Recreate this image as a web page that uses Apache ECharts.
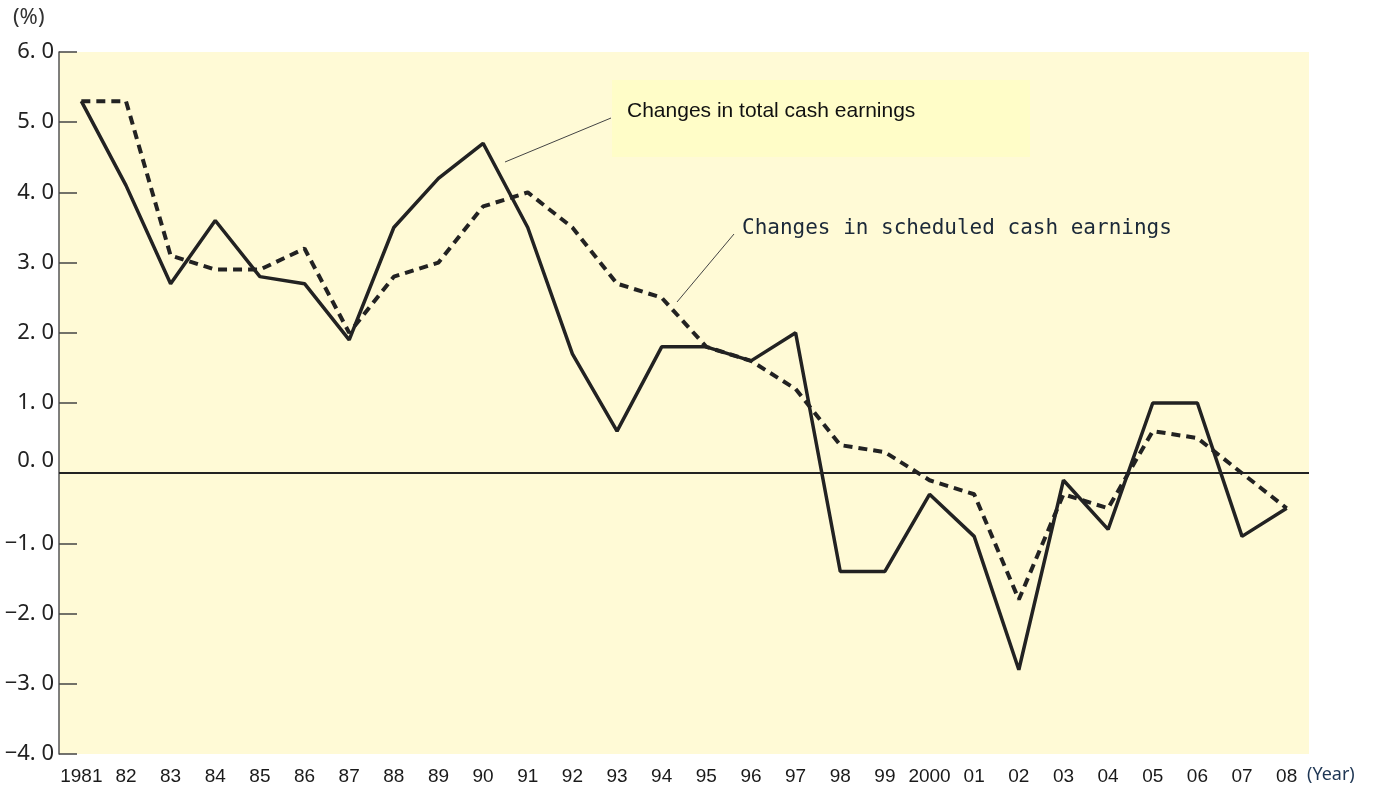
<!DOCTYPE html>
<html>
<head>
<meta charset="utf-8">
<script src="https://cdn.jsdelivr.net/npm/echarts@6/dist/echarts.min.js"></script>
<style>
  html, body { margin: 0; padding: 0; background: #fff; }
  #chart { width: 1389px; height: 796px; }
</style>
</head>
<body>
<div id="chart"></div>
<script>
var years = ['1981','82','83','84','85','86','87','88','89','90','91','92','93','94',
             '95','96','97','98','99','2000','01','02','03','04','05','06','07','08'];

var totalEarnings = [5.3, 4.1, 2.7, 3.6, 2.8, 2.7, 1.9, 3.5, 4.2, 4.7, 3.5, 1.7, 0.6, 1.8,
                     1.8, 1.6, 2.0, -1.4, -1.4, -0.3, -0.9, -2.8, -0.1, -0.8, 1.0, 1.0, -0.9, -0.5];

var scheduledEarnings = [5.3, 5.3, 3.1, 2.9, 2.9, 3.2, 2.0, 2.8, 3.0, 3.8, 4.0, 3.5, 2.7, 2.5,
                         1.8, 1.6, 1.2, 0.4, 0.3, -0.1, -0.3, -1.8, -0.3, -0.5, 0.6, 0.5, 0.0, -0.5];

var yTicks = [-4, -3, -2, -1, 0, 1, 2, 3, 4, 5, 6];

function line_chart_draw() {
    var dom = document.getElementById('chart');
    var chart = echarts.init(dom);

    var option = {
        animation: false,
        backgroundColor: '#ffffff',
        grid: {
            left: 59, right: 80, top: 52, bottom: 42,
            show: true,
            backgroundColor: '#FFFAD6',
            borderWidth: 0
        },
        xAxis: {
            type: 'category',
            boundaryGap: true,
            data: years,
            axisLine: { show: false },
            axisTick: { show: false },
            axisLabel: {
                margin: 13,
                color: '#1a1a1a',
                fontFamily: 'Liberation Sans Narrow, Liberation Sans, sans-serif',
                fontSize: 19,
                interval: 0
            },
            splitLine: { show: false }
        },
        yAxis: {
            type: 'value',
            min: yTicks[0],
            max: yTicks[yTicks.length - 1],
            interval: 1,
            axisLine: { show: true, lineStyle: { color: '#555', width: 1.5 } },
            axisTick: { show: true, inside: true, length: 18, lineStyle: { color: '#444', width: 1.5 } },
            axisLabel: {
                margin: 5,
                color: '#222',
                fontFamily: 'Noto Sans, sans-serif',
                fontSize: 22,
                formatter: function (v) {
                    var s = Math.abs(v).toFixed(1).replace('.', '. ');
                    if (v === 0) return '{z|' + s + '}';
                    return (v < 0 ? '\u2212' : '') + s;
                },
                rich: {
                    z: { fontSize: 22, color: '#222', fontFamily: 'Noto Sans, sans-serif', padding: [0, 0, 24, 0] }
                }
            },
            splitLine: { show: false }
        },
        series: [
            {
                name: 'Changes in scheduled cash earnings',
                type: 'line',
                data: scheduledEarnings,
                symbol: 'none',
                z: 3,
                lineStyle: { color: '#222', width: 4, type: [9, 6] }
            },
            {
                name: 'Changes in total cash earnings',
                type: 'line',
                data: totalEarnings,
                symbol: 'none',
                z: 4,
                lineStyle: { color: '#222', width: 3.5 },
                markLine: {
                    silent: true,
                    symbol: 'none',
                    label: { show: false },
                    lineStyle: { color: '#222', width: 2, type: 'solid' },
                    data: [{ yAxis: 0 }]
                }
            }
        ],
        graphic: [
            {
                type: 'text', left: 13, top: 7,
                style: { text: '(%)', font: '22px "Noto Sans", sans-serif', fill: '#333' }
            },
            {
                type: 'text', left: 1307, top: 766,
                style: { text: '(Year)', font: '18px "Noto Sans", sans-serif', fill: '#1d3553' }
            },
            {
                type: 'rect', z: 1,
                shape: { x: 612, y: 80, width: 418, height: 77 },
                style: { fill: '#FFFDC8' }
            },
            {
                type: 'text', z: 5, left: 627, top: 101,
                style: { text: 'Changes in total cash earnings', font: '21px "Liberation Sans", Arial, sans-serif', fill: '#111' }
            },
            {
                type: 'line', z: 5,
                shape: { x1: 505, y1: 162, x2: 611, y2: 118 },
                style: { stroke: '#444', lineWidth: 1 }
            },
            {
                type: 'text', z: 5, left: 742, top: 218,
                style: { text: 'Changes in scheduled cash earnings', font: '21px "DejaVu Sans Mono", monospace', fill: '#1b2838' }
            },
            {
                type: 'line', z: 5,
                shape: { x1: 677, y1: 302, x2: 734, y2: 234 },
                style: { stroke: '#444', lineWidth: 1 }
            }
        ]
    };

    if (option && typeof option === 'object') {
        chart.setOption(option, true);
    }
}

line_chart_draw();
</script>
</body>
</html>
